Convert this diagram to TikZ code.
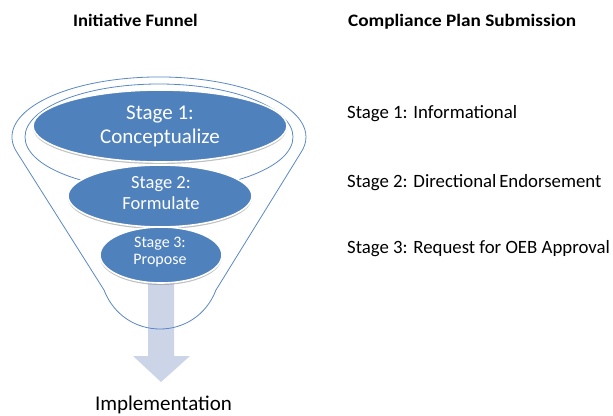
\documentclass[tikz,border=0pt]{standalone}
\usepackage{fontspec}
\setmainfont{Carlito}
\usepackage{graphicx}
\usetikzlibrary{shapes.geometric,shadows}
\definecolor{stageblue}{RGB}{79,129,189}
\definecolor{funnelblue}{RGB}{90,136,196}
\definecolor{arrowfill}{RGB}{204,213,232}
\tikzset{
  funnelline/.style={draw=funnelblue, line width=0.8pt},
  stagebox/.style={ellipse, fill=stageblue, draw=white, line width=1.6pt,
    inner sep=0pt,
    drop shadow={shadow xshift=0pt, shadow yshift=-2pt, fill=black!45, opacity=.55}},
  stagetext/.style={text=white, align=center, inner sep=0pt},
  heading/.style={anchor=base, inner sep=0pt},
  plantext/.style={anchor=base west, inner sep=0pt, font=\fontsize{18.8}{23}\selectfont}
}
\begin{document}
\begin{tikzpicture}[x=1pt,y=-1pt]
\useasboundingbox (0,0) rectangle (613,415);
% headings
\node[heading] (h1) at (135.5,26) {\scalebox{1.06}[1]{\fontsize{17.5}{20}\selectfont\bfseries Initiative Funnel}};
\node[heading, anchor=base west] (h2) at (348,26) {\scalebox{1.1}[1]{\fontsize{17.5}{20}\selectfont\bfseries Compliance Plan Submission}};
% arrow
\fill[arrowfill] (148,283) -- (174,283) -- (174,356) -- (190,356) -- (161,382) -- (133,356) -- (148,356) -- cycle;
% funnel outline
\draw[funnelline] (17.35,153) arc[start angle=164.5, end angle=375.5, x radius=147, y radius=60]
  -- (216,290) .. controls (196,342) and (124,342) .. (104,290) -- cycle;
\node[ellipse, funnelline, minimum width=268pt, minimum height=106pt, inner sep=0pt] (ring) at (159,137) {};
% stages
\node[stagebox, minimum width=254pt, minimum height=72pt] (s1) at (160,126) {};
\node[stagetext, font=\fontsize{21}{24}\selectfont] (s1t) at (160,126) {Stage 1:\\Conceptualize};
\node[stagebox, minimum width=184pt, minimum height=62pt] (s2) at (160,196) {};
\node[stagetext, font=\fontsize{18.5}{20.5}\selectfont] (s2t) at (161,193) {Stage 2:\\Formulate};
\node[stagebox, minimum width=122pt, minimum height=56pt] (s3) at (161,255) {};
\node[stagetext, font=\fontsize{16}{17.5}\selectfont] (s3t) at (160,252) {Stage 3:\\Propose};
% implementation
\node[anchor=base, inner sep=0pt, font=\fontsize{21}{24}\selectfont] (impl) at (163.5,410) {Implementation};
% right column
\node[plantext] (p1) at (347,118) {Stage 1: Informational};
\node[plantext] (p2) at (347,187) {Stage 2: Directional\hspace{0.15em}Endorsement};
\node[plantext] (p3) at (347,253) {Stage 3: Request for OEB Approval};
\end{tikzpicture}
\end{document}
